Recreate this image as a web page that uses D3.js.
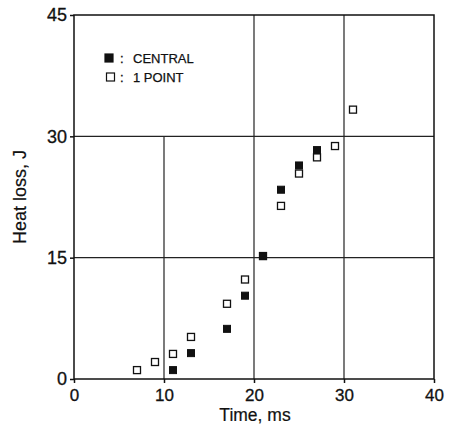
<!DOCTYPE html>
<html>
<head>
<meta charset="utf-8">
<script src="https://cdn.jsdelivr.net/npm/d3@7"></script>
<style>
  body { margin: 0; background: #fff; }
  text { font-family: "Liberation Sans", Arial, sans-serif; fill: #111; }
</style>
</head>
<body>
<script>
// data
var centralTime = [11, 13, 17, 19, 21, 23, 25, 27];
var centralLoss = [1.1, 3.2, 6.2, 10.3, 15.2, 23.4, 26.4, 28.3];
var pointTime = [7, 9, 11, 13, 17, 19, 21, 23, 25, 27, 29, 31];
var pointLoss = [1.1, 2.1, 3.1, 5.2, 9.3, 12.3, 15.2, 21.4, 25.4, 27.4, 28.8, 33.3];
var xTicks = [0, 10, 20, 30, 40];
var yTicks = [0, 15, 30, 45];
var legendLabels = ["CENTRAL", "1 POINT"];

var W = 449, H = 427;
var margin = {top: 15, right: 15, bottom: 48, left: 74};
var width = W - margin.left - margin.right,
    height = H - margin.top - margin.bottom;

var svg = d3.select("body").append("svg")
    .attr("width", W).attr("height", H)
  .append("g")
    .attr("transform", "translate(" + margin.left + "," + margin.top + ")");

var x = d3.scaleLinear().domain([0, 40]).range([0, width]);
var y = d3.scaleLinear().domain([0, 45]).range([height, 0]);

// grid lines (the one at x=10 stops under the legend)
svg.selectAll(".vgrid")
  .data(xTicks.slice(1, -1))
  .enter().append("line")
    .attr("x1", d => x(d)).attr("x2", d => x(d))
    .attr("y1", d => d == 10 ? y(30) : 0)
    .attr("y2", height)
    .attr("stroke", "#222").attr("stroke-width", 1.2);

svg.selectAll(".hgrid")
  .data(yTicks.slice(1, -1))
  .enter().append("line")
    .attr("x1", 0).attr("x2", width)
    .attr("y1", d => y(d)).attr("y2", d => y(d))
    .attr("stroke", "#222").attr("stroke-width", 1.2);

// frame
svg.append("rect")
  .attr("width", width).attr("height", height)
  .attr("fill", "none").attr("stroke", "#111").attr("stroke-width", 1.5);

// axes
var xAxis = svg.append("g")
  .attr("transform", "translate(0," + height + ")")
  .call(d3.axisBottom(x).tickValues(xTicks).tickSize(4).tickPadding(6).tickSizeOuter(0));
var yAxis = svg.append("g")
  .call(d3.axisLeft(y).tickValues(yTicks).tickSize(4).tickPadding(3).tickSizeOuter(0));

[xAxis, yAxis].forEach(function(a) {
  a.select(".domain").remove();
  a.selectAll("line").attr("stroke", "#111").attr("stroke-width", 1.5);
  a.selectAll("text").attr("font-size", 18).attr("fill", "#111")
    .attr("stroke", "#111").attr("stroke-width", 0.3)
    .attr("font-family", "'Liberation Sans', Arial, sans-serif");
});
xAxis.selectAll("text").attr("font-size", 17);

svg.append("text")
  .attr("x", width / 2 + 1).attr("y", height + 42)
  .attr("text-anchor", "middle").attr("font-size", 17.5)
  .attr("stroke", "#111").attr("stroke-width", 0.2)
  .text("Time, ms");

svg.append("text")
  .attr("transform", "translate(-48," + (height / 2) + ") rotate(-90)")
  .attr("text-anchor", "middle").attr("font-size", 18)
  .attr("stroke", "#111").attr("stroke-width", 0.2)
  .text("Heat loss, J");

var s = 7;
// open squares (1 point)
svg.selectAll(".open")
  .data(pointTime.map((t, i) => ({t: t, v: pointLoss[i]})))
  .enter().append("rect")
    .attr("x", d => x(d.t) - s / 2).attr("y", d => y(d.v) - s / 2)
    .attr("width", s).attr("height", s)
    .attr("fill", "#fff").attr("stroke", "#111").attr("stroke-width", 1.3);

// filled squares (central)
svg.selectAll(".filled")
  .data(centralTime.map((t, i) => ({t: t, v: centralLoss[i]})))
  .enter().append("rect")
    .attr("x", d => x(d.t) - s / 2).attr("y", d => y(d.v) - s / 2)
    .attr("width", s).attr("height", s)
    .attr("fill", "#111").attr("stroke", "#111").attr("stroke-width", 1);

// legend
var leg = svg.append("g").attr("transform", "translate(31,43)");
legendLabels.forEach(function(l, i) {
  leg.append("rect")
    .attr("x", i == 0 ? 0 : 1.5).attr("y", i * 19 - 4)
    .attr("width", 8).attr("height", 8)
    .attr("fill", i == 0 ? "#111" : "#fff")
    .attr("stroke", "#111").attr("stroke-width", 1.2);
  leg.append("text")
    .attr("x", 15).attr("y", i * 19 + 4.5)
    .attr("font-size", 13).attr("stroke", "#111").attr("stroke-width", 0.3)
    .text(":");
  leg.append("text")
    .attr("x", 28).attr("y", i * 19 + 4.5)
    .attr("font-size", 13).attr("stroke", "#111").attr("stroke-width", 0.25)
    .text(l);
});
</script>
</body>
</html>
